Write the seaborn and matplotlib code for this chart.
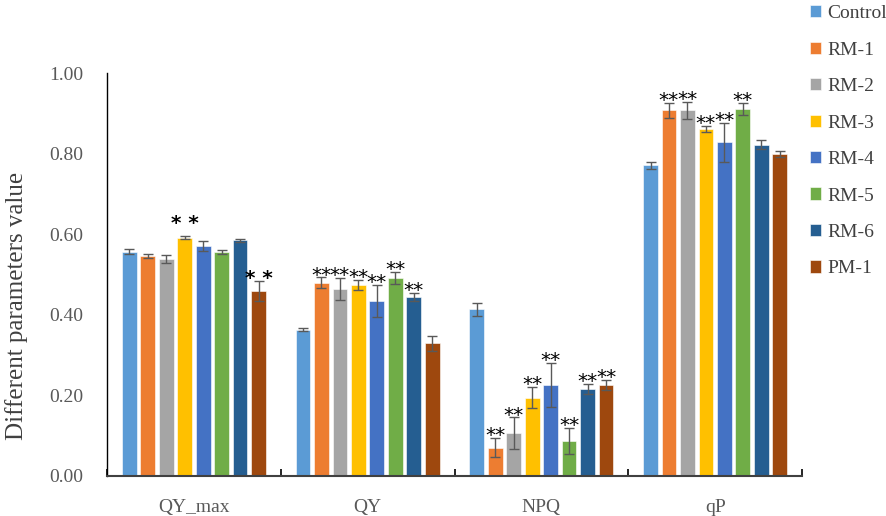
import numpy as np
import pandas as pd
import seaborn as sns
import matplotlib.pyplot as plt
from matplotlib.ticker import FormatStrFormatter

params = ['QY_max', 'QY', 'NPQ', 'qP']
groups = ['Control', 'RM-1', 'RM-2', 'RM-3', 'RM-4', 'RM-5', 'RM-6', 'PM-1']
colors = ['#5B9BD5', '#ED7D31', '#A5A5A5', '#FFC000', '#4472C4', '#70AD47', '#255E91', '#9E480E']

qy_max = [0.557, 0.546, 0.539, 0.591, 0.571, 0.556, 0.585, 0.459]
qy = [0.363, 0.480, 0.464, 0.474, 0.434, 0.491, 0.445, 0.329]
npq = [0.413, 0.070, 0.106, 0.194, 0.226, 0.086, 0.216, 0.226]
qp = [0.771, 0.908, 0.908, 0.862, 0.828, 0.912, 0.823, 0.799]

qy_max_err = [0.007, 0.005, 0.010, 0.004, 0.012, 0.005, 0.004, 0.025]
qy_err = [0.004, 0.013, 0.027, 0.013, 0.040, 0.015, 0.010, 0.019]
npq_err = [0.016, 0.024, 0.039, 0.027, 0.055, 0.033, 0.012, 0.012]
qp_err = [0.008, 0.019, 0.021, 0.008, 0.048, 0.015, 0.010, 0.007]

qy_max_sig = ['', '', '', '* *', '', '', '', '* *']
qy_sig = ['', '**', '**', '**', '**', '**', '**', '']
npq_sig = ['', '**', '**', '**', '**', '**', '**', '**']
qp_sig = ['', '**', '**', '**', '**', '**', '', '']

rows = []
for p, vals, errs, sigs in zip(params, [qy_max, qy, npq, qp],
                               [qy_max_err, qy_err, npq_err, qp_err],
                               [qy_max_sig, qy_sig, npq_sig, qp_sig]):
    for g, v, e, s in zip(groups, vals, errs, sigs):
        rows.append({'param': p, 'group': g, 'value': v, 'err': e, 'sig': s})
df = pd.DataFrame(rows)

sns.set_theme(style='white')
plt.rcParams['font.family'] = ['Liberation Serif', 'DejaVu Serif']

fig = plt.figure(figsize=(8.86, 5.16), dpi=100)
ax = fig.add_axes([0.1208, 0.0781, 0.7844, 0.7799])

sns.barplot(data=df, x='param', y='value', hue='group', order=params, hue_order=groups,
            palette=colors, width=0.85, gap=0.2, errorbar=None, saturation=1,
            edgecolor='white', linewidth=0.4, legend=True, ax=ax)

# the QY_max RM-3 mark sits a bit higher in the original
lift = {('QY_max', 'RM-3'): 0.027}

# error bars and significance marks at the seaborn bar centres
for bars, g in zip(ax.containers, groups):
    sub = df[df['group'] == g].set_index('param').loc[params]
    xs = [b.get_x() + b.get_width() / 2 for b in bars]
    ax.errorbar(xs, sub['value'], yerr=sub['err'], fmt='none', ecolor='#595959',
                elinewidth=1, capsize=3.5, capthick=1)
    for p, x, v, e, s in zip(params, xs, sub['value'], sub['err'], sub['sig']):
        if s:
            ax.text(x, v + e - 0.008 + lift.get((p, g), 0), s, ha='center', va='baseline',
                    fontsize=14.5, color='black', family='DejaVu Sans',
                    fontweight='bold' if ' ' in s else 'normal')

ax.set_ylim(0, 1.0)
ax.set_xlim(-0.5, 3.5)
ax.set_yticks(np.arange(0, 1.01, 0.2))
ax.yaxis.set_major_formatter(FormatStrFormatter('%.2f'))
ax.set_xlabel('')
ax.set_ylabel('Different parameters value', fontsize=18, color='#404040')
ax.yaxis.set_label_coords(-0.114, 0.423)
ax.tick_params(axis='y', direction='in', length=3, width=1, colors='black', labelsize=14, labelcolor='#595959', pad=17)
ax.tick_params(axis='x', length=0, labelsize=14, labelcolor='#595959', pad=17)
ax.set_xticks([-0.5, 0.5, 1.5, 2.5, 3.5], minor=True)
ax.tick_params(axis='x', which='minor', direction='in', length=5, width=1.2, colors='black', bottom=True)

for side in ['top', 'right']:
    ax.spines[side].set_visible(False)
ax.spines['left'].set_color('black')
ax.spines['left'].set_linewidth(1)
ax.spines['bottom'].set_color('#404040')
ax.spines['bottom'].set_linewidth(1.5)

handles, labels = ax.get_legend_handles_labels()
ax.legend_.remove()
fig.legend(handles, labels, loc='upper left', bbox_to_anchor=(0.894, 1.024), frameon=False,
           fontsize=14, handlelength=0.6, handleheight=0.6, handletextpad=0.3,
           labelspacing=1.0, labelcolor='#404040')

fig.savefig('out.png', dpi=100)
